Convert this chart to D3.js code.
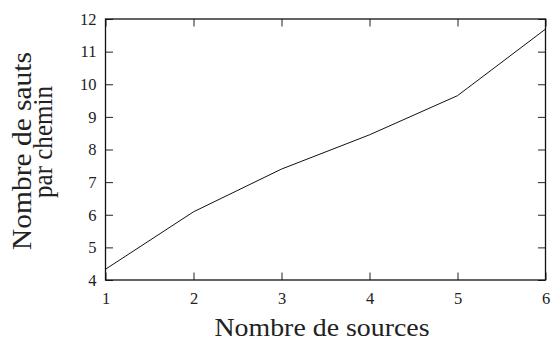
<!DOCTYPE html>
<html><head><meta charset="utf-8">
<script src="https://cdn.jsdelivr.net/npm/d3@7"></script>
<style>body{margin:0;background:#fff}svg{display:block}text{font-family:"Liberation Serif","DejaVu Serif",serif;fill:#222}</style>
</head><body><svg id="c" width="552" height="341"></svg>
<script>
const sources = [1, 2, 3, 4, 5, 6];
const hops = [4.33, 6.09, 7.40, 8.45, 9.65, 11.69];
const xTicks = [1, 2, 3, 4, 5, 6];
const yTicks = [4, 5, 6, 7, 8, 9, 10, 11, 12];
const xTitle = "Nombre de sources";
const yTitle = ["Nombre de sauts", "par chemin"];

const svg = d3.select("#c");
const L = 105.5, R = 545.5, T = 19, B = 280;
const x = d3.scaleLinear().domain([1, 6]).range([L, R]);
const y = d3.scaleLinear().domain([4, 12]).range([B, T]);
const tk = 7.5;
const styleTicks = a => {
  a.select(".domain").remove();
  a.selectAll("text").style("font-size", "16.5px").style("font-family", "'Liberation Serif', serif").style("fill", "#222");
};

const g = svg.append("g");
g.append("g").attr("transform", `translate(0,${B})`)
  .call(d3.axisBottom(x).tickValues(xTicks).tickSize(-tk).tickPadding(12).tickFormat(d3.format("d")))
  .call(styleTicks);
g.append("g").attr("transform", `translate(0,${T})`)
  .call(d3.axisTop(x).tickValues(xTicks).tickSize(-tk).tickFormat(""))
  .call(a => a.select(".domain").remove());
g.append("g").attr("transform", `translate(${L},0)`)
  .call(d3.axisLeft(y).tickValues(yTicks).tickSize(-tk).tickPadding(9).tickFormat(d3.format("d")))
  .call(styleTicks);
g.append("g").attr("transform", `translate(${R},0)`)
  .call(d3.axisRight(y).tickValues(yTicks).tickSize(-tk).tickFormat(""))
  .call(a => a.select(".domain").remove());
g.selectAll(".tick line").attr("stroke", "#222").attr("stroke-width", 1);

svg.append("rect").attr("x", L).attr("y", T).attr("width", R - L).attr("height", B - T)
  .attr("fill", "none").attr("stroke", "#111").attr("stroke-width", 1.3);

const line = d3.line().x((d, i) => x(sources[i])).y(d => y(d));
svg.append("path").datum(hops).attr("d", line).attr("fill", "none").attr("stroke", "#111").attr("stroke-width", 1);

svg.append("text").attr("x", 322).attr("y", 336).attr("text-anchor", "middle")
  .style("font-size", "25px").attr("textLength", 215).attr("lengthAdjust", "spacingAndGlyphs").text(xTitle);

const ys = [{t: yTitle[0], cx: 151, bx: 31, len: 198}, {t: yTitle[1], cx: 142, bx: 51.5, len: 112}];
svg.selectAll("text.yt").data(ys).join("text").attr("class", "yt")
  .attr("transform", d => `translate(${d.bx},${d.cx}) rotate(-90)`)
  .attr("text-anchor", "middle").style("font-size", "26.5px")
  .attr("textLength", d => d.len).attr("lengthAdjust", "spacingAndGlyphs").text(d => d.t);
</script></body></html>
